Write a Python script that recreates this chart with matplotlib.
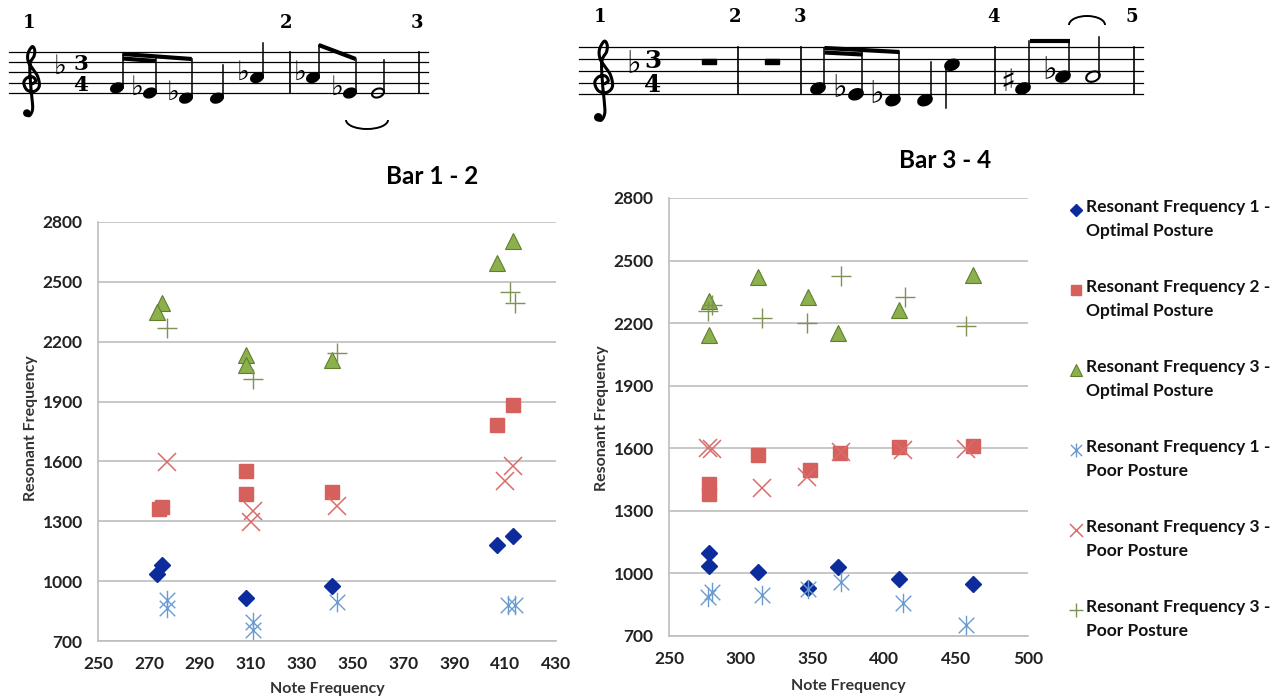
import numpy as np
import matplotlib.pyplot as plt
from matplotlib.patches import Ellipse, Arc, Rectangle, Circle
from matplotlib.path import Path

plt.rcParams['font.family'] = ['Lato', 'DejaVu Sans']

# ---- data: Bar 1 - 2 ----
b12_f1o_x = [275, 273, 308, 342, 407, 413]
b12_f1o_y = [1080, 1035, 915, 975, 1180, 1225]
b12_f2o_x = [274, 275, 308, 308, 342, 407, 413]
b12_f2o_y = [1360, 1372, 1552, 1438, 1447, 1781, 1883]
b12_f3o_x = [275, 273, 308, 308, 342, 407, 413]
b12_f3o_y = [2396, 2348, 2132, 2085, 2109, 2593, 2707]
b12_f1p_x = [277, 277, 311, 311, 344, 411, 414]
b12_f1p_y = [906, 867, 797, 757, 893, 880, 880]
b12_f3px_x = [277, 311, 310, 344, 410, 413]
b12_f3px_y = [1596, 1350, 1297, 1376, 1500, 1579]
b12_f3pp_x = [277, 311, 344, 412, 414]
b12_f3pp_y = [2268, 2014, 2141, 2449, 2396]

# ---- data: Bar 3 - 4 ----
b34_f1o_x = [278, 278, 312, 347, 368, 410, 462]
b34_f1o_y = [1097, 1037, 1008, 931, 1030, 974, 948]
b34_f2o_x = [278, 278, 312, 348, 369, 410, 462]
b34_f2o_y = [1430, 1380, 1568, 1496, 1576, 1604, 1612]
b34_f3o_x = [278, 278, 312, 347, 368, 410, 462]
b34_f3o_y = [2305, 2143, 2420, 2326, 2155, 2263, 2429]
b34_f1p_x = [277, 280, 315, 347, 370, 413, 457]
b34_f1p_y = [888, 909, 897, 926, 957, 857, 751]
b34_f3px_x = [277, 280, 315, 346, 370, 413, 457]
b34_f3px_y = [1599, 1595, 1410, 1462, 1581, 1590, 1597]
b34_f3pp_x = [277, 280, 315, 346, 370, 414, 457]
b34_f3pp_y = [2257, 2288, 2223, 2203, 2425, 2326, 2186]

y_ticks = [700, 1000, 1300, 1600, 1900, 2200, 2500, 2800]
b12_xticks = list(range(250, 431, 20))
b34_xticks = list(range(250, 501, 50))

legend_labels = ["Resonant Frequency 1 -\nOptimal Posture",
                 "Resonant Frequency 2 -\nOptimal Posture",
                 "Resonant Frequency 3 -\nOptimal Posture",
                 "Resonant Frequency 1 -\nPoor Posture",
                 "Resonant Frequency 3 -\nPoor Posture",
                 "Resonant Frequency 3 -\nPoor Posture"]

# asterisk marker like Excel's (X with a vertical bar)
star = Path([(0, -1), (0, 1), (-0.8, -0.8), (0.8, 0.8), (-0.8, 0.8), (0.8, -0.8)],
            [Path.MOVETO, Path.LINETO] * 3)

styles = [
    dict(marker='D', ms=8.5, mfc='#0c2c9c', mec='#0c2c9c'),
    dict(marker='s', ms=10.5, mfc='#d6605c', mec='#d6605c'),
    dict(marker='^', ms=11.5, mfc='#8db04e', mec='#5f7f2c', mew=0.8),
    dict(marker=star, ms=14, mfc='none', mec='#6a9bd0', mew=1.0),
    dict(marker='x', ms=13, mfc='none', mec='#dc6b6b', mew=1.1),
    dict(marker='+', ms=14, mfc='none', mec='#7f9255', mew=1.0),
]

W, H = 1287, 699
fig = plt.figure(figsize=(W / 100, H / 100), dpi=100)


def px_axes(x0, y0, x1, y1):
    return fig.add_axes([x0 / W, 1 - y1 / H, (x1 - x0) / W, (y1 - y0) / H])


def scatter_chart(ax, series, xticks):
    for (xs, ys), st in zip(series, styles):
        ax.plot(xs, ys, linestyle='none', **st)
    ax.set_xlim(xticks[0], xticks[-1])
    ax.set_ylim(700, 2800)
    ax.set_xticks(xticks)
    ax.set_yticks(y_ticks)
    ax.grid(axis='y', color='#bdbdbd', lw=1.2)
    ax.set_axisbelow(True)
    for s in ['top', 'right']:
        ax.spines[s].set_visible(False)
    for s in ['left', 'bottom']:
        ax.spines[s].set_color('#bdbdbd')
        ax.spines[s].set_linewidth(1.2)
    ax.tick_params(length=0, labelsize=12.5, colors='#222222')
    ax.tick_params(axis='y', pad=11)
    ax.tick_params(axis='x', pad=11)
    for lab in ax.get_xticklabels() + ax.get_yticklabels():
        lab.set_fontweight('bold')


ax1 = px_axes(98, 222, 556, 641)
scatter_chart(ax1, [(b12_f1o_x, b12_f1o_y), (b12_f2o_x, b12_f2o_y), (b12_f3o_x, b12_f3o_y),
                    (b12_f1p_x, b12_f1p_y), (b12_f3px_x, b12_f3px_y), (b12_f3pp_x, b12_f3pp_y)],
              b12_xticks)
ax2 = px_axes(669, 198, 1028, 636)
scatter_chart(ax2, [(b34_f1o_x, b34_f1o_y), (b34_f2o_x, b34_f2o_y), (b34_f3o_x, b34_f3o_y),
                    (b34_f1p_x, b34_f1p_y), (b34_f3px_x, b34_f3px_y), (b34_f3pp_x, b34_f3pp_y)],
              b34_xticks)

# overlay in pixel coordinates for titles, legend and the music staves
ov = fig.add_axes([0, 0, 1, 1])
ov.set_xlim(0, W)
ov.set_ylim(H, 0)
ov.axis('off')
ov.patch.set_alpha(0)

ov.text(432, 177, "Bar 1 - 2", ha='center', va='center', fontsize=17.5, fontweight='bold')
ov.text(945, 161, "Bar 3 - 4", ha='center', va='center', fontsize=17.5, fontweight='bold')
lab_kw = dict(ha='center', va='center', fontsize=11.5, fontweight='bold', color='#333333')
ov.text(31, 428, "Resonant Frequency", rotation=90, **lab_kw)
ov.text(602, 418, "Resonant Frequency", rotation=90, **lab_kw)
ov.text(327, 689, "Note Frequency", **lab_kw)
ov.text(848, 686, "Note Frequency", **lab_kw)

# legend
for i, (lab, st) in enumerate(zip(legend_labels, styles)):
    y = 210 + i * 80.0
    s = dict(st)
    s['ms'] = st['ms'] * 0.72
    ov.plot([1076], [y], linestyle='none', **s)
    ov.text(1086, y - 11, lab, ha='left', va='top', fontsize=12.5, fontweight='bold',
            linespacing=1.6, color='#111111')


# ---- music notation ----
def catmull(pts, n=14):
    p = np.array(pts, dtype=float)
    p = np.vstack([p[0], p, p[-1]])
    out = []
    t = np.linspace(0, 1, n, endpoint=False)[:, None]
    for i in range(1, len(p) - 2):
        p0, p1, p2, p3 = p[i - 1], p[i], p[i + 1], p[i + 2]
        out.append(0.5 * (2 * p1 + (-p0 + p2) * t + (2 * p0 - 5 * p1 + 4 * p2 - p3) * t ** 2
                          + (-p0 + 3 * p1 - 3 * p2 + p3) * t ** 3))
    out.append(p[-2][None])
    return np.vstack(out)


# treble clef outline in line-spacing units, origin on the G line
clef_pts = [(0.15, 0.1), (0.45, -0.15), (0.2, -0.55), (-0.35, -0.5), (-0.7, 0.0), (-0.4, 0.7),
            (0.3, 0.85), (0.8, 0.35), (0.65, -0.6), (0.2, -1.3), (-0.25, -2.0), (-0.3, -2.8),
            (0.1, -3.5), (0.35, -3.2), (0.3, -2.6), (-0.1, -1.8), (-0.05, 0.0), (0.1, 1.5),
            (0.15, 2.6), (-0.15, 3.2), (-0.5, 3.05)]


class Staff:
    def __init__(self, x0, x1, bottom, step):
        self.bottom, self.step = bottom, step
        for k in range(5):
            ov.plot([x0, x1], [self.y(2 * k)] * 2, color='black', lw=0.9)

    def y(self, st):
        return self.bottom - self.step * st

    def barline(self, x):
        ov.plot([x, x], [self.y(8), self.y(0)], color='black', lw=1.2)

    def head(self, x, st, filled=True):
        s = self.step
        ov.add_patch(Ellipse((x, self.y(st)), 2.4 * s, 1.65 * s, angle=-22,
                             facecolor='black' if filled else 'white', edgecolor='black', lw=1.5))

    def stem(self, x, st, top, up=True):
        dx = 1.1 * self.step if up else -1.1 * self.step
        ov.plot([x + dx] * 2, [self.y(st), top], color='black', lw=1.1)

    def note(self, x, st, top, filled=True, up=True):
        self.head(x, st, filled)
        self.stem(x, st, top, up)

    def acc(self, x, st, sym):
        ov.text(x, self.y(st) - 1.0 * self.step, sym, ha='center', va='center',
                fontsize=3.8 * self.step, family=['DejaVu Sans'])

    def clef(self, cx):
        u = 2 * self.step
        c = catmull(clef_pts) * u + [cx, self.y(2)]
        ov.plot(c[:, 0], c[:, 1], color='black', lw=2.2, solid_capstyle='round')
        ov.add_patch(Circle((cx - 0.4 * u, self.y(2) + 2.95 * u), 0.3 * u, color='black'))

    def timesig(self, x):
        for st, d in [(6, "3"), (2, "4")]:
            ov.text(x, self.y(st), d, ha='center', va='center_baseline', fontsize=3.0 * self.step,
                    fontweight='bold', family=['DejaVu Serif'])

    def rest(self, x):
        s = self.step
        ov.add_patch(Rectangle((x - 1.25 * s, self.y(6)), 2.5 * s, 0.9 * s, color='black'))


def num(x, t, y):
    ov.text(x, y, t, ha='center', va='center', fontsize=13, fontweight='bold', family=['DejaVu Serif'])


def beam(xa, ya, xb, yb):
    ov.plot([xa, xb], [ya, yb], color='black', lw=3, solid_capstyle='butt')


flat, sharp = "\u266d", "\u266f"

# left staff (bars 1-2)
L = Staff(9, 428, 93.0, 5.15)
L.clef(31)
L.acc(60, 4, flat)
L.timesig(81)
for x, t in [(29, "1"), (286, "2"), (417, "3")]:
    num(x, t, 23)
L.note(117, 1, 54)
L.acc(137, 0, flat); L.note(150, 0, 56.5)
L.acc(173, -1, flat); L.note(186, -1, 59)
beam(122.7, 54, 191.7, 59)
beam(122.7, 58.5, 155.7, 61)
L.note(217, -1, 65)
L.acc(243, 3, flat); L.note(257, 3, 43)
L.barline(290)
L.acc(300, 3, flat); L.note(313, 3, 45)
L.acc(337, 0, flat); L.note(350, 0, 59)
beam(318.7, 45, 355.7, 59)
L.note(378, 0, 60, filled=False)
L.barline(419)
ov.add_patch(Arc((367, 120), 42, 18, theta1=0, theta2=180, color='black', lw=1.4))

# right staff (bars 1-5)
R = Staff(579, 1143, 94.3, 5.9)
R.clef(603)
R.acc(634, 4, flat)
R.timesig(653)
for x, t in [(600, "1"), (735, "2"), (800, "3"), (993, "4"), (1132, "5")]:
    num(x, t, 17)
R.rest(709)
R.barline(738)
R.rest(772)
R.barline(801)
R.note(818, 1, 48)
R.acc(840, 0, flat); R.note(856, 0, 50)
R.acc(877, -1, flat); R.note(893, -1, 52)
beam(824.5, 48, 899.5, 52)
beam(824.5, 52.5, 862.5, 54.5)
R.note(925, -1, 62)
R.note(952, 5, 108, up=False)
R.barline(995)
R.acc(1008, 1, sharp); R.note(1023, 1, 41)
R.acc(1050, 3, flat); R.note(1063, 3, 41)
beam(1029.5, 41, 1069.5, 41)
R.note(1093, 3, 37, filled=False)
R.barline(1134)
ov.add_patch(Arc((1087, 25), 36, 18, theta1=180, theta2=360, color='black', lw=1.4))

fig.savefig('out.png', dpi=100)
